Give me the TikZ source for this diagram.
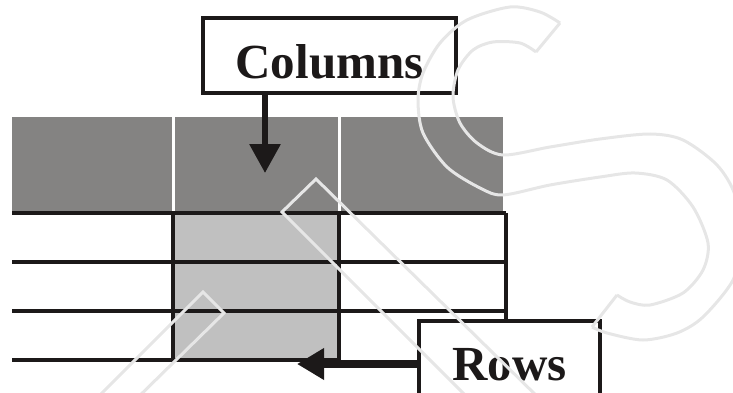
\documentclass[tikz,border=0pt]{standalone}
\usepackage{fontspec}
\setmainfont{Liberation Serif}
\usetikzlibrary{arrows.meta}
\definecolor{bandgray}{HTML}{848382}
\definecolor{cellgray}{HTML}{C0C0C0}
\definecolor{ink}{HTML}{1C1919}
\definecolor{logogray}{HTML}{E6E6E6}

\begin{document}
\begin{tikzpicture}[x=1pt,y=-1pt,
  gridline/.style={ink,line width=3.8pt},
  labelbox/.style={draw=ink,line width=3.3pt,fill=white,inner sep=0pt,
    font=\bfseries\fontsize{49}{49}\selectfont,text=ink,anchor=base},
  pointer/.style={ink,-{Triangle[length=#1pt,width=30pt]}},
  logo/.style={logogray,line width=3pt,line join=miter}]

\useasboundingbox (0,0) rectangle (733,393);
\begin{scope}
\clip (0,0) rectangle (733,393);

% header band with three column cells
\fill[bandgray] (12,117) rectangle (503,213);
\draw[white,line width=3pt] (173,117) -- (173,213) (339,117) -- (339,213);

% highlighted column
\fill[cellgray] (173,213) rectangle (339,360);

% row and column rules
\draw[gridline] (12,213) -- (506,213) (12,262) -- (506,262)
                (12,311) -- (506,311) (12,360) -- (339,360);
\draw[gridline] (173,213) -- (173,360) (339,213) -- (339,360) (506,213) -- (506,321);

% labels
\node[labelbox,minimum width=253pt,text height=61pt,text depth=14pt] (colbox) at (329.5,79) {Columns};
\node[labelbox,minimum width=181pt,text height=59pt,text depth=50pt] (rowsbox) at (509.5,380) {Rows};

% pointers
\coordinate (coltip) at (265,173);
\coordinate (rowtip) at (297,364);
\draw[pointer=29,line width=6pt] (colbox.south -| coltip) -- (coltip);
\draw[pointer=27,line width=8pt] (rowsbox.west |- rowtip) -- (rowtip);

% faint logo outline over the table
\draw[logo] (85,410) -- (203,292) -- (224,313) -- (125,410);
\draw[logo] (480,410) -- (282,212) -- (316,179) -- (551,410);
\draw[logo] plot[smooth] coordinates {(560,23) (540,12) (510,7) (467,20) (440,43)
  (423,73) (418,100) (423,133) (447,167) (480,188) (503,195) (550,185) (600,177)
  (635,173) (667,180) (693,207) (708,243) (703,270) (683,293) (650,305) (630,302) (617,295)};
\draw[logo] plot[smooth] coordinates {(536,52) (520,43) (493,42) (473,50) (458,70)
  (453,97) (460,123) (477,143) (503,155) (550,147) (600,139) (650,134) (683,140)
  (717,165) (735,195) (742,240) (733,280) (703,317) (677,333) (643,340) (607,333) (592,327)};
\draw[logo] (560,23) -- (536,52) (617,295) -- (592,327);
\end{scope}
\end{tikzpicture}
\end{document}
